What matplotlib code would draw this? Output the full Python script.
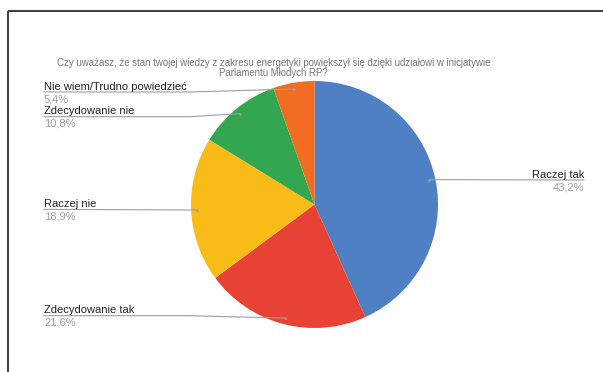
import numpy as np, matplotlib
matplotlib.use("Agg")
import matplotlib.pyplot as plt

plt.rcParams.update({"font.family": ["Liberation Sans", "DejaVu Sans"]})

TITLE = ("Czy uważasz, że stan twojej wiedzy z zakresu energetyki powiększył się dzięki udziałowi w inicjatywie\n"
         "Parlamentu Młodych RP?")
labels = ["Raczej tak", "Zdecydowanie tak", "Raczej nie", "Zdecydowanie nie", "Nie wiem/Trudno powiedzieć"]
pcts = [43.2, 21.6, 18.9, 10.8, 5.4]
pct_txt = ["43,2%", "21,6%", "18,9%", "10,8%", "5,4%"]
colors = ["#5080C4", "#E84234", "#F8BB18", "#33A750", "#F06D22"]

# layout in pixel coords (y measured from top), converted below
W, H = 603, 372
CX, CY, R = 314.5, 204.5, 123.5
line_y = [180, 315.7, 209.3, 116.7, 92]      # y of leader line under each label
text_x = [584, 44, 44, 44, 44]
bend_x = [None, 190, None, 190, 190]

fig = plt.figure(figsize=(W / 100, H / 100), dpi=100)
ax = fig.add_axes([0, 0, 1, 1])
ax.set_xlim(0, W); ax.set_ylim(0, H); ax.axis("off")
fy = lambda y: H - y

ax.pie(pcts, colors=colors, startangle=90, counterclock=False, center=(CX, fy(CY)), radius=R,
       wedgeprops=dict(linewidth=0))
ax.set_xlim(0, W); ax.set_ylim(0, H); ax.set_aspect("equal")

# frame (top and left edges)
ax.plot([8, W], [fy(10.5), fy(10.5)], color="#444444", lw=1.5, solid_capstyle="butt")
ax.plot([8, 8], [fy(10.5), 0], color="#444444", lw=1.5, solid_capstyle="butt")

ax.text(273.5, fy(67.5), TITLE, ha="center", va="center", fontsize=6.9, color="#757575", linespacing=1.0)

cum = np.cumsum([0] + pcts[:-1])
for i, (lab, p, pt) in enumerate(zip(labels, pcts, pct_txt)):
    ang = np.deg2rad((cum[i] + p / 2) / 100 * 360)
    dx, dy = CX + 0.95 * R * np.sin(ang), CY - 0.95 * R * np.cos(ang)
    tx, ly = text_x[i], line_y[i]
    if tx > CX:
        xs, ys = [dx, tx], [dy, ly]
        ha = "right"
    else:
        xs = [tx] + ([bend_x[i]] if bend_x[i] else []) + [dx]
        ys = [ly] + ([ly] if bend_x[i] else []) + [dy]
        ha = "left"
    ax.plot(xs, [fy(v) for v in ys], color="#9E9E9E", lw=0.8)
    ax.plot(dx, fy(dy), "o", ms=1.8, color="#9E9E9E", mec="none")
    ax.text(tx, fy(ly - 5.5), lab, ha=ha, va="center", fontsize=8, color="#222222")
    ax.text(tx, fy(ly + 7), pt, ha=ha, va="center", fontsize=8, color="#9E9E9E")

fig.savefig("out.png", dpi=100)
